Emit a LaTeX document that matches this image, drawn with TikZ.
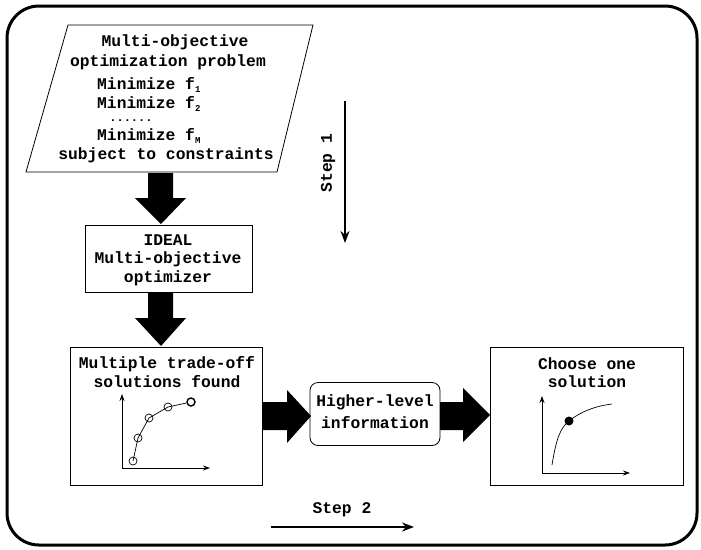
\documentclass[tikz,border=0pt]{standalone}
\usepackage{fontspec}
\setmainfont{Liberation Mono}
\usetikzlibrary{arrows.meta}
\newcommand{\subidx}[1]{\textsubscript{\fontsize{9}{9}\selectfont #1}}
\begin{document}
\begin{tikzpicture}[x=1pt,y=-1pt,
  txt/.style={font=\fontsize{16.3}{19}\selectfont\bfseries, inner sep=0pt, align=center},
  plainbox/.style={draw, line width=0.8pt},
  blockarrow/.style={fill=black, draw=none},
  steparrow/.style={line width=2pt, -{Stealth[length=12pt,width=9pt]}},
  axis/.style={line width=0.8pt, -{Stealth[length=7pt,width=5pt]}},
  sol/.style={draw, line width=0.7pt, circle, inner sep=0pt, minimum size=8pt}]
\useasboundingbox (0,0) rectangle (701,549);

% outer frame
\draw[line width=3pt, rounded corners=32pt] (7,6) rectangle (697,545);

% problem statement (parallelogram)
\coordinate (pa) at (68,25);
\coordinate (pb) at (313,25);
\coordinate (pc) at (277,172);
\coordinate (pd) at (26,172);
\draw[line width=0.8pt] (pa) -- (pb) -- (pc) -- (pd) -- cycle;
\node[txt] (t1) at (175,42) {Multi-objective};
\node[txt] (t2) at (168,62) {optimization problem};
\node[txt, anchor=west] (t3) at (97,85) {Minimize f\subidx{1}};
\node[txt, anchor=west] (t4) at (97,104) {Minimize f\subidx{2}};
\node[txt, anchor=base, text height=2pt, text depth=0pt] (t5) at (131,121) {\fontsize{12}{12}\selectfont ......};
\node[txt, anchor=west] (t6) at (97,136) {Minimize f\subidx{M}};
\node[txt] (t7) at (166,155) {subject to constraints};

% optimizer box
\node[plainbox, minimum width=167pt, minimum height=67pt] (opt) at (168.5,258.5) {};
\node[txt] (o1) at (168,240) {IDEAL};
\node[txt] (o2) at (168,259) {Multi-objective};
\node[txt] (o3) at (168,278) {optimizer};

% trade-off solutions box
\node[plainbox, minimum width=192pt, minimum height=138pt] (trade) at (166,416) {};
\node[txt] (s1) at (167,364) {Multiple trade-off};
\node[txt] (s2) at (167,382) {solutions found};
\coordinate (ao) at (122,468);
\coordinate (ay) at (122,394);
\coordinate (ax) at (210,468);
\draw[axis] (ao) -- (ay);
\draw[axis] (ao) -- (ax);
\node[sol] (c1) at (133,461) {};
\node[sol] (c2) at (138,438) {};
\node[sol] (c3) at (149,418) {};
\node[sol] (c4) at (168,407) {};
\node[sol, line width=1.4pt] (c5) at (191,402) {};
\draw[line width=0.7pt] (c1.center) -- (c2.center) -- (c3.center) -- (c4.center) -- (c5);

% higher-level information box
\node[plainbox, rounded corners=8pt, minimum width=130pt, minimum height=63pt] (info) at (375,414) {};
\node[txt] (h1) at (375,402) {Higher-level};
\node[txt] (h2) at (375,423) {information};

% choose one solution box
\node[plainbox, minimum width=193pt, minimum height=138pt] (choose) at (586.5,416) {};
\node[txt] (ch1) at (587,364) {Choose one};
\node[txt] (ch2) at (587,382) {solution};
\coordinate (bo) at (542,473);
\coordinate (by) at (542,396);
\coordinate (bx) at (630,473);
\draw[axis] (bo) -- (by);
\draw[axis] (bo) -- (bx);
\draw[line width=0.7pt] (552,465) .. controls (556,440) and (560,428) .. (569,421)
  .. controls (580,412) and (595,406) .. (612,404);
\node[circle, fill=black, inner sep=0pt, minimum size=9pt] (pick) at (569,421) {};

% block arrows
\fill[blockarrow] (148,173) -- (173,173) -- (173,198) -- (186,198) -- (161,224)
  -- (135,198) -- (148,198) -- cycle;
\fill[blockarrow] (148,292) -- (173,292) -- (173,318) -- (186,318) -- (161,346)
  -- (135,318) -- (148,318) -- cycle;
\fill[blockarrow] (262,402) -- (287,402) -- (287,390) -- (311,416) -- (287,443)
  -- (287,430) -- (262,430) -- cycle;
\fill[blockarrow] (440,402) -- (463,402) -- (463,388) -- (490,415) -- (463,442)
  -- (463,430) -- (440,430) -- cycle;

% step arrows
\coordinate (s1a) at (345,101);
\coordinate (s1b) at (345,243);
\draw[steparrow] (s1a) -- (s1b);
\node[txt, rotate=90] (step1) at (328,163) {Step 1};
\coordinate (s2a) at (271,527);
\coordinate (s2b) at (414,527);
\draw[steparrow] (s2a) -- (s2b);
\node[txt] (step2) at (342,510) {Step 2};
\end{tikzpicture}
\end{document}
